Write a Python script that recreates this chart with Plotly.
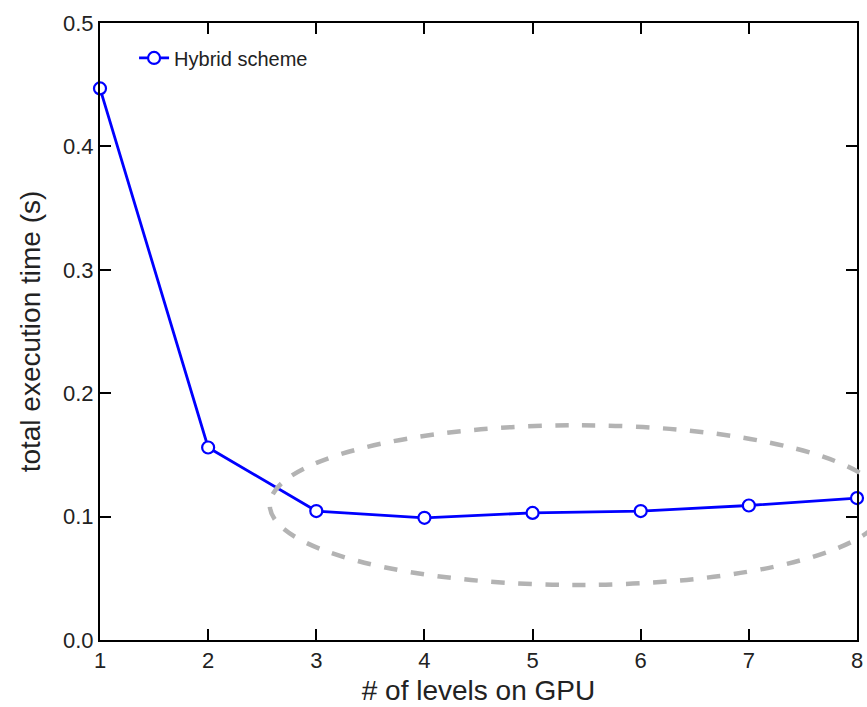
import plotly.graph_objects as go

levels = [1, 2, 3, 4, 5, 6, 7, 8]
exec_time = [0.447, 0.156, 0.1045, 0.099, 0.103, 0.1045, 0.109, 0.115]
series_name = "Hybrid scheme"
y_ticks = [0.0, 0.1, 0.2, 0.3, 0.4, 0.5]
y_tick_labels = ["0.0", "0.1", "0.2", "0.3", "0.4", "0.5"]

x_range = [1, 8]
y_range = [0, 0.5]

# highlight ellipse in data units (extends beyond the plot on the right)
ell_x = [2.57, 8.27]
ell_y = [0.0446, 0.174]

def to_paper_x(v):
    return (v - x_range[0]) / (x_range[1] - x_range[0])

def to_paper_y(v):
    return (v - y_range[0]) / (y_range[1] - y_range[0])

FONT = "Liberation Sans, Arial, sans-serif"

fig = go.Figure()
fig.add_trace(go.Scatter(
    x=levels, y=exec_time, name=series_name, mode="lines+markers",
    line=dict(color="#0000FF", width=2.8),
    marker=dict(symbol="circle", size=12, color="white",
                line=dict(color="#0000FF", width=2.2)),
    cliponaxis=False,
))

fig.add_shape(type="circle", xref="paper", yref="paper",
              x0=to_paper_x(ell_x[0]), x1=to_paper_x(ell_x[1]),
              y0=to_paper_y(ell_y[0]), y1=to_paper_y(ell_y[1]),
              line=dict(color="#B3B3B3", width=4.5, dash="dash"),
              layer="above")

axis_common = dict(
    showline=True, linecolor="black", linewidth=2, mirror="ticks",
    ticks="inside", ticklen=11, tickwidth=2, tickcolor="black",
    showgrid=False, zeroline=False, automargin=False,
    tickfont=dict(family=FONT, size=22, color="#222"),
)

fig.update_xaxes(range=x_range, tickvals=levels, title=dict(
    text="# of levels on GPU", standoff=8,
    font=dict(family=FONT, size=28, color="#222")),
    **axis_common)
fig.update_yaxes(range=y_range, tickvals=y_ticks, ticktext=y_tick_labels, title=dict(
    text="total execution time (s)", standoff=14,
    font=dict(family=FONT, size=28, color="#222")),
    **axis_common)

fig.update_layout(
    width=867, height=707,
    margin=dict(l=100, r=10, t=23, b=67),
    plot_bgcolor="white", paper_bgcolor="white",
    showlegend=True,
    legend=dict(x=0.045, y=0.975, xanchor="left", yanchor="top",
                bgcolor="rgba(0,0,0,0)",
                font=dict(family=FONT, size=20, color="#222")),
)

fig.write_html("out.html")
